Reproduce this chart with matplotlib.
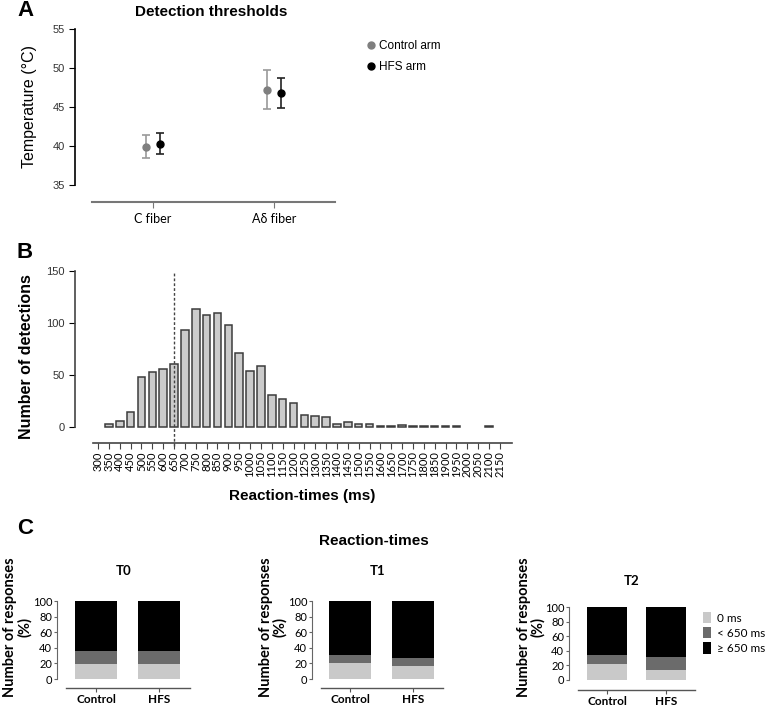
import matplotlib
matplotlib.use("Agg")
import matplotlib.pyplot as plt
from matplotlib.lines import Line2D
from matplotlib.patches import Patch
import numpy as np

plt.rcParams['font.family'] = ['Liberation Sans', 'DejaVu Sans']
CAL = ['Lato', 'DejaVu Sans']

# --- Panel A: detection thresholds
fibers = ["C fiber", "A\u03b4 fiber"]
control_mean = [39.9, 47.2]
control_sd = [1.45, 2.5]
hfs_mean = [40.3, 46.8]
hfs_sd = [1.35, 1.95]

# --- Panel B: reaction-time histogram
rt_bins = [300, 350, 400, 450, 500, 550, 600, 650, 700, 750, 800, 850, 900, 950,
           1000, 1050, 1100, 1150, 1200, 1250, 1300, 1350, 1400, 1450, 1500, 1550,
           1600, 1650, 1700, 1750, 1800, 1850, 1900, 1950, 2000, 2050, 2100, 2150]
rt_counts = [0, 3, 6, 14, 48, 53, 56, 61, 93, 113, 108, 110, 98, 71,
             54, 59, 31, 27, 23, 12, 11, 10, 3, 5, 3, 3,
             1, 1, 2, 1, 1, 1, 1, 1, 0, 0, 1, 0]
cutoff_ms = 650

# --- Panel C: response categories (%)
timepoints = ["T0", "T1", "T2"]
groups = ["Control", "HFS"]
zero_ms = [[19, 19], [21, 17], [22, 13]]
under_650 = [[17, 17], [10, 10], [12, 19]]
over_650 = [[64, 64], [69, 73], [66, 68]]
cat_labels = ["0 ms", "< 650 ms", "\u2265 650 ms"]
cat_colors = ["#c9c9c9", "#6b6b6b", "#000000"]

W, H = 767, 706
fig = plt.figure(figsize=(W / 100, H / 100), dpi=100)


def px_axes(left, top, right, bottom):
    return fig.add_axes([left / W, 1 - bottom / H, (right - left) / W, (bottom - top) / H])


# ---------------- A ----------------
axA = px_axes(75, 29, 335, 202)
x = np.arange(len(fibers))
off = 0.055
axA.errorbar(x - off, control_mean, yerr=control_sd, fmt='o', color='#7f7f7f',
             ecolor='#9a9a9a', ms=5, capsize=3, elinewidth=1.2, capthick=1.2)
axA.errorbar(x + off, hfs_mean, yerr=hfs_sd, fmt='o', color='black',
             ecolor='#222222', ms=5, capsize=3, elinewidth=1.2, capthick=1.2)
axA.set_xlim(-0.645, 1.504)
axA.set_ylim(32.8, 55)
axA.set_yticks([35, 40, 45, 50, 55])
axA.set_xticks(x)
axA.set_xticklabels(fibers, family=CAL, fontsize=9)
axA.spines['left'].set_bounds(35, 55)
axA.spines['bottom'].set_bounds(-0.504, 1.504)
axA.spines['left'].set_linewidth(1.2)
axA.spines['bottom'].set_color('#777777')
axA.spines['bottom'].set_linewidth(1.5)
for s in ['top', 'right']:
    axA.spines[s].set_visible(False)
axA.tick_params(axis='y', labelsize=8, length=4, labelcolor='#333333')
axA.tick_params(axis='x', length=4, color='#777777', pad=4)
axA.set_ylabel("Temperature (\u00b0C)", fontsize=11.5)
axA.yaxis.set_label_coords(-0.145, 0.55)
fig.text(211 / W, 1 - 12 / H, "Detection thresholds", fontsize=11, fontweight='bold',
         ha='center', va='center')
fig.text(17 / W, 1 - 10 / H, "A", fontsize=16, fontweight='bold', va='center')
legA = [Line2D([], [], marker='o', ls='', color='#7f7f7f', ms=5, label="Control arm"),
        Line2D([], [], marker='o', ls='', color='black', ms=5, label="HFS arm")]
fig.legend(handles=legA, loc='upper left', bbox_to_anchor=(362 / W, 1 - 34 / H),
           frameon=False, fontsize=8.5, handlelength=0.5, handletextpad=0.4,
           labelspacing=0.75, borderpad=0)

# ---------------- B ----------------
axB = px_axes(75, 271, 512, 443)
idx = np.arange(len(rt_bins))
counts = np.array(rt_counts)
nz = counts > 0
axB.bar(idx[nz], counts[nz], width=0.7, color='#cbcbcb', edgecolor='#3c3c3c', linewidth=1.1)
axB.axvline(rt_bins.index(cutoff_ms), ymin=-0.02, ymax=1, color='#444444', ls=(0, (2, 1.5)),
            lw=1, clip_on=False)
axB.set_xlim(-2.12, 38.12)
axB.set_ylim(-15.4, 150)
axB.set_yticks([0, 50, 100, 150])
axB.set_xticks(idx)
axB.set_xticklabels([str(b) for b in rt_bins], rotation=90, family=CAL, fontsize=8)
axB.spines['left'].set_bounds(0, 150)
axB.spines['bottom'].set_bounds(-0.46, 38.12)
for s in ['left', 'bottom']:
    axB.spines[s].set_color('#444444')
    axB.spines[s].set_linewidth(1.2)
for s in ['top', 'right']:
    axB.spines[s].set_visible(False)
axB.tick_params(axis='y', labelsize=8, length=4, labelcolor='#333333')
axB.tick_params(axis='x', length=4, pad=2, color='#444444')
axB.set_ylabel("Number of detections", fontsize=11.5, fontweight='bold')
axB.yaxis.set_label_coords(-0.094, 0.5)
axB.set_xlabel("Reaction-times (ms)", fontsize=11, fontweight='bold', labelpad=6)
axB.xaxis.set_label_coords(0.52, -0.27)
fig.text(17 / W, 1 - 252 / H, "B", fontsize=16, fontweight='bold', va='center')

# ---------------- C ----------------
# (left, top, right, bottom, first bar centre, bar spacing, y bottom, title pad, ylabel y)
c_rects = [(57, 601, 190, 688, 96, 63, -11.4, 19, 0.70),
           (312, 601, 443, 688, 350, 63, -11.4, 19, 0.70),
           (569, 607, 695, 690, 607, 59, -14.0, 16, 0.76)]
for k, (l, t, r, b, c0, step, ybot, tpad, ylab_y) in enumerate(c_rects):
    ax = px_axes(l, t, r, b)
    xc = np.arange(len(groups))
    z = np.array(zero_ms[k])
    u = np.array(under_650[k])
    o = np.array(over_650[k])
    ax.bar(xc, z, width=0.68, color=cat_colors[0], edgecolor='none')
    ax.bar(xc, u, bottom=z, width=0.68, color=cat_colors[1], edgecolor='none')
    ax.bar(xc, o, bottom=z + u, width=0.68, color=cat_colors[2], edgecolor='none')
    ax.set_xlim((l - c0) / step, (r - c0) / step)
    ax.set_ylim(ybot, 100)
    ax.set_yticks([0, 20, 40, 60, 80, 100])
    ax.set_yticklabels([str(v) for v in [0, 20, 40, 60, 80, 100]], family=CAL, fontsize=8)
    ax.set_xticks(xc)
    ax.set_xticklabels(groups, family=CAL, fontsize=8.5, fontweight='bold')
    ax.spines['left'].set_bounds(0, 100)
    ax.spines['bottom'].set_bounds((l + 9 - c0) / step, (r - c0) / step)
    ax.spines['left'].set_color('#666666')
    ax.spines['left'].set_linewidth(0.8)
    ax.spines['bottom'].set_color('#555555')
    ax.spines['bottom'].set_linewidth(1.0)
    for s in ['top', 'right']:
        ax.spines[s].set_visible(False)
    ax.tick_params(axis='y', length=2.5, pad=1, color='#666666')
    ax.tick_params(axis='x', length=3, pad=1, color='#555555')
    ax.set_title(timepoints[k], family=CAL, fontsize=9.5, fontweight='bold', pad=tpad)
    ax.set_ylabel("Number of responses\n(%)", family=CAL, fontsize=10.5, fontweight='bold',
                  linespacing=1.0)
    ax.yaxis.set_label_coords(-0.19, ylab_y)
    if k == 2:
        handles = [Patch(facecolor=cat_colors[i], edgecolor='none', label=cat_labels[i])
                   for i in range(3)]
        fig.legend(handles=handles, loc='upper left', bbox_to_anchor=(697 / W, 1 - 606 / H),
                   frameon=False, prop={'family': CAL, 'size': 8.5}, handlelength=0.7,
                   handleheight=1.1, handletextpad=0.5, labelspacing=0.3, borderpad=0)

fig.text(374 / W, 1 - 541 / H, "Reaction-times", fontsize=11, fontweight='bold',
         ha='center', va='center')
fig.text(17 / W, 1 - 528 / H, "C", fontsize=16, fontweight='bold', va='center')

fig.savefig("out.png", dpi=100)
